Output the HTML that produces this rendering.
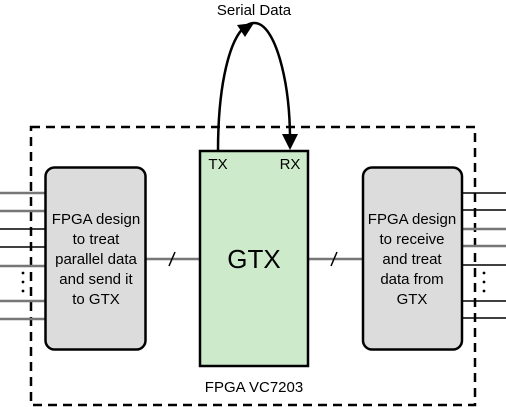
<!DOCTYPE html>
<html><head><style>html,body{margin:0;padding:0;background:#fff;}svg{display:block}
text{font-family:"Liberation Sans",sans-serif;font-size:15px;}
.big{font-size:26px;}
</style></head>
<body>
<svg width="506" height="407" viewBox="0 0 506 407" xmlns="http://www.w3.org/2000/svg">
<rect x="31" y="127" width="444" height="278" fill="none" stroke="#000" stroke-width="2.5" stroke-dasharray="9,6"/>
<g stroke="#777" stroke-width="2.5">
<line x1="0" y1="193" x2="46" y2="193"/><line x1="0" y1="211" x2="46" y2="211"/>
<line x1="0" y1="266" x2="46" y2="266"/><line x1="0" y1="301" x2="46" y2="301"/><line x1="0" y1="319" x2="46" y2="319"/>
<line x1="462" y1="229" x2="506" y2="229"/><line x1="462" y1="246" x2="506" y2="246"/>
<line x1="146" y1="259" x2="200" y2="259"/><line x1="308" y1="259" x2="363" y2="259"/>
</g>
<g stroke="#000" stroke-width="1.5">
<line x1="0" y1="229" x2="46" y2="229"/><line x1="0" y1="247" x2="46" y2="247"/>
<line x1="462" y1="193" x2="506" y2="193"/><line x1="462" y1="210" x2="506" y2="210"/>
<line x1="462" y1="265" x2="506" y2="265"/><line x1="462" y1="301" x2="506" y2="301"/><line x1="462" y1="318" x2="506" y2="318"/>
<line x1="169" y1="266" x2="175" y2="252"/><line x1="331" y1="266" x2="337" y2="252"/>
</g>
<g fill="#000"><circle cx="23" cy="273" r="1.4"/><circle cx="23" cy="282" r="1.4"/><circle cx="23" cy="291" r="1.4"/>
<circle cx="484" cy="273" r="1.4"/><circle cx="484" cy="282" r="1.4"/><circle cx="484" cy="291" r="1.4"/></g>
<rect x="45.5" y="167.5" width="100" height="182" rx="9" fill="#dcdcdc" stroke="#000" stroke-width="2.5"/>
<rect x="363" y="167.5" width="99" height="182" rx="9" fill="#dcdcdc" stroke="#000" stroke-width="2.5"/>
<rect x="200" y="151" width="108" height="215" fill="#cdebcb" stroke="#000" stroke-width="2.5"/>
<path d="M218 151 C218 80 232 22 255 23 C275 24 290 80 290 140" fill="none" stroke="#000" stroke-width="2.5"/>
<polygon points="254,23 237,25 245,37" fill="#000"/>
<polygon points="290,150 282,134 298,134" fill="#000"/>
<g text-anchor="middle" fill="#000">
<text x="254" y="15">Serial Data</text>
<text x="218" y="169">TX</text><text x="290" y="169">RX</text>
<text x="254" y="392">FPGA VC7203</text>
<text x="96" y="224">FPGA design</text><text x="96" y="244">to treat</text><text x="96" y="264">parallel data</text><text x="96" y="284">and send it</text><text x="96" y="304">to GTX</text>
<text x="412" y="224">FPGA design</text><text x="412" y="244">to receive</text><text x="412" y="264">and treat</text><text x="412" y="284">data from</text><text x="412" y="304">GTX</text>
<text class="big" x="254" y="268">GTX</text>
</g>
</svg>
</body></html>
